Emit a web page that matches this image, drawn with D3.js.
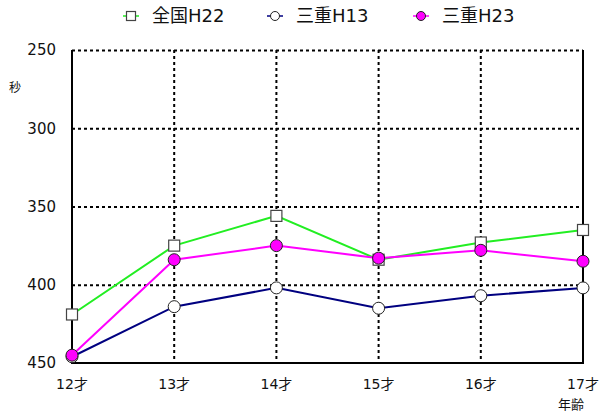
<!DOCTYPE html>
<html>
<head>
<meta charset="utf-8">
<script src="https://cdn.jsdelivr.net/npm/d3@7"></script>
<style>
  body { margin: 0; background: #fff; }
  text { font-family: "DejaVu Sans", "Noto Sans CJK JP", sans-serif; fill: #111; }
</style>
</head>
<body>
<svg id="chart" width="601" height="412"></svg>
<script>

var ages = ["12才", "13才", "14才", "15才", "16才", "17才"];
var yTicks = [250, 300, 350, 400, 450];

var zenkokuH22 = [419, 375, 356, 384, 373, 365];
var mieH13 = [446, 414, 402, 415, 407, 402];
var mieH23 = [445, 384, 375, 383, 378, 385];

var seriesNames = ["全国H22", "三重H13", "三重H23"];
var seriesColors = ["#22ee22", "#000080", "#ff00ff"];
var seriesShapes = ["square", "openCircle", "fillCircle"];

var margin = { left: 72, right: 18, top: 50, bottom: 49 };
var width = 601, height = 412;

var svg = d3.select("#chart");

var x = d3.scalePoint()
		.domain(ages)
		.range([margin.left, width - margin.right]);

var y = d3.scaleLinear()
		.domain([250, 450])
		.range([margin.top, height - margin.bottom]);

// grid lines
svg.append("g")
	.selectAll("line")
	.data(yTicks.filter(function(d) { return d < 450; }))
	.enter().append("line")
	.attr("x1", margin.left)
	.attr("x2", width - margin.right)
	.attr("y1", function(d) { return y(d) + 0.5; })
	.attr("y2", function(d) { return y(d) + 0.5; })
	.attr("stroke", "#000")
	.attr("stroke-width", 2)
	.attr("stroke-dasharray", "3,3");

svg.append("g")
	.selectAll("line")
	.data(ages.slice(1, 5))
	.enter().append("line")
	.attr("x1", function(d) { return x(d); })
	.attr("x2", function(d) { return x(d); })
	.attr("y1", margin.top)
	.attr("y2", height - margin.bottom)
	.attr("stroke", "#000")
	.attr("stroke-width", 2)
	.attr("stroke-dasharray", "3,3");

// frame: left, right, bottom solid
var frame = svg.append("g").attr("stroke", "#000").attr("stroke-width", 2);
frame.append("line")
	.attr("x1", margin.left).attr("x2", margin.left)
	.attr("y1", y(250)).attr("y2", y(450));
frame.append("line")
	.attr("x1", width - margin.right).attr("x2", width - margin.right)
	.attr("y1", y(250)).attr("y2", y(450));
frame.append("line")
	.attr("x1", margin.left - 1).attr("x2", width - margin.right + 1)
	.attr("y1", y(450)).attr("y2", y(450));

// y axis labels
svg.append("g")
	.selectAll("text")
	.data(yTicks)
	.enter().append("text")
	.attr("x", 56)
	.attr("y", function(d) { return y(d); })
	.attr("dy", "0.36em")
	.attr("text-anchor", "end")
	.style("font-size", "15px")
	.text(function(d) { return d; });

svg.append("text")
	.attr("x", 15).attr("y", 88)
	.attr("dy", "0.36em")
	.attr("text-anchor", "middle")
	.style("font-size", "12px")
	.text("秒");

// x axis labels
svg.append("g")
	.selectAll("text")
	.data(ages)
	.enter().append("text")
	.attr("x", function(d) { return x(d); })
	.attr("y", 384)
	.attr("dy", "0.36em")
	.attr("text-anchor", "middle")
	.style("font-size", "14px")
	.text(function(d) { return d; });

svg.append("text")
	.attr("x", 584).attr("y", 404)
	.attr("dy", "0.36em")
	.attr("text-anchor", "end")
	.style("font-size", "13px")
	.text("年齢");

// series
var seriesData = [zenkokuH22, mieH13, mieH23];

var line = d3.line()
		.x(function(d, i) { return x(ages[i]); })
		.y(function(d) { return y(d); });

function drawMarker(g, shape, cx, cy, size) {
	if (shape == "square") {
		g.append("rect")
			.attr("x", cx - size).attr("y", cy - size)
			.attr("width", size * 2).attr("height", size * 2)
			.attr("fill", "#fff")
			.attr("stroke", "#444")
			.attr("stroke-width", 1.2);
	} else {
		g.append("circle")
			.attr("cx", cx).attr("cy", cy)
			.attr("r", size)
			.attr("fill", shape == "fillCircle" ? "#ff00ff" : "#fff")
			.attr("stroke", "#222")
			.attr("stroke-width", 1);
	}
}

// draw order: navy first, then green, then pink on top
[1, 0, 2].forEach(function(s) {
	var g = svg.append("g");
	g.append("path")
		.datum(seriesData[s])
		.attr("fill", "none")
		.attr("stroke", seriesColors[s])
		.attr("stroke-width", 2)
		.attr("d", line);
	seriesData[s].forEach(function(v, i) {
		drawMarker(g, seriesShapes[s], x(ages[i]), y(v), s == 0 ? 5.5 : 6);
	});
});

// legend
var legendX = [131, 275, 421];
seriesNames.forEach(function(name, s) {
	var g = svg.append("g");
	g.append("line")
		.attr("x1", legendX[s] - 8).attr("x2", legendX[s] + 8)
		.attr("y1", 16).attr("y2", 16)
		.attr("stroke", seriesColors[s])
		.attr("stroke-width", 1.5);
	drawMarker(g, seriesShapes[s], legendX[s], 16, 4.5);
	g.append("text")
		.attr("x", legendX[s] + 21)
		.attr("y", 16)
		.attr("dy", "0.36em")
		.style("font-size", "18px")
		.text(name);
});

</script>
</body>
</html>
